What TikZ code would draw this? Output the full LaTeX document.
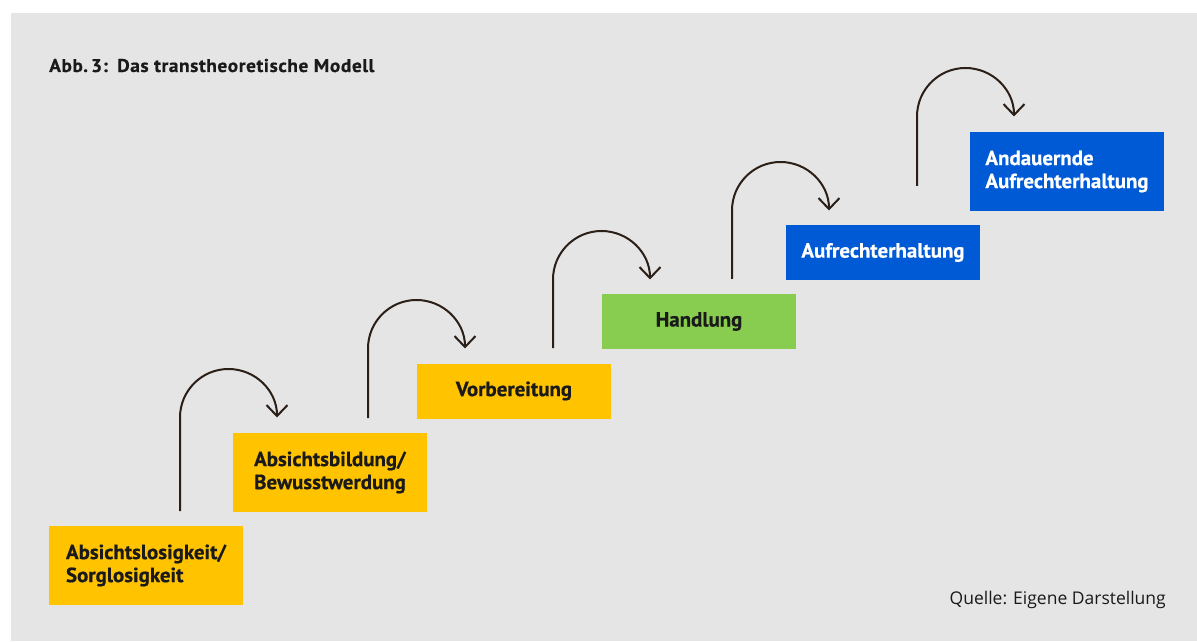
\documentclass[tikz,border=0pt]{standalone}
\usepackage{fontspec}
\setmainfont{Open Sans}
\newfontfamily\condfont[FakeStretch=1.02, FakeBold=0.6]{PT Sans}
\newfontfamily\titlefont[FakeStretch=1.05, LetterSpace=3, FakeBold=0.5]{PT Sans}
\usetikzlibrary{arrows.meta}
\definecolor{bggray}{HTML}{E5E5E5}
\definecolor{stepyellow}{HTML}{FFC300}
\definecolor{stepgreen}{HTML}{88CD50}
\definecolor{stepblue}{HTML}{005AD5}
\definecolor{arrowbrown}{HTML}{2B1F17}
\definecolor{txtdark}{HTML}{1A1A1A}
\tikzset{
  stage/.style={rectangle, inner sep=0pt, minimum width=194pt, align=left,
    font=\condfont\bfseries\fontsize{20.5}{23}\selectfont},
  tall/.style={minimum height=79pt},
  short/.style={minimum height=55pt},
  yel/.style={fill=stepyellow, text=txtdark},
  grn/.style={fill=stepgreen, text=txtdark},
  blu/.style={fill=stepblue, text=white},
  loop/.style={draw=arrowbrown, line width=2pt, -{Straight Barb[length=11pt,width=21pt,line width=2pt]}}
}
\begin{document}
\begin{tikzpicture}[x=1pt,y=1pt]
\useasboundingbox (0,0) rectangle (1197,641);
\fill[white] (0,0) rectangle (1197,641);
\fill[bggray] (11,0) rectangle (1197,628);
\node[anchor=base west, inner sep=0pt, text=txtdark, font=\titlefont\bfseries\fontsize{18.5}{21}\selectfont] (title) at (49,569) {Abb.\,3:\enspace Das transtheoretische Modell};
\node[anchor=base east, inner sep=0pt, text=txtdark, font=\fontsize{17.5}{20}\selectfont] (source) at (1166,37) {Quelle: Eigene Darstellung};
\node[stage, tall, yel] (s1) at (146,75.5) {Absichtslosigkeit/\\Sorglosigkeit};
\node[stage, tall, yel] (s2) at (330,168.5) {Absichtsbildung/\\Bewusstwerdung};
\node[stage, short, yel] (s3) at (514,250) {Vorbereitung};
\node[stage, short, grn] (s4) at (699,319.5) {Handlung};
\node[stage, short, blu] (s5) at (883,388.5) {Aufrechterhaltung};
\node[stage, tall, blu] (s6) at (1067,469.5) {Andauernde\\Aufrechterhaltung};
\coordinate (a1) at (180,130);
\coordinate (a2) at (368,223);
\coordinate (a3) at (553,293);
\coordinate (a4) at (732,362);
\coordinate (a5) at (917,455);
\draw[loop] (a1) -- (180,223.5) arc[start angle=180, end angle=0, radius=48.5pt];
\draw[loop] (a2) -- (368,292.5) arc[start angle=180, end angle=0, radius=48.5pt];
\draw[loop] (a3) -- (553,361.5) arc[start angle=180, end angle=0, radius=48.5pt];
\draw[loop] (a4) -- (732,430.5) arc[start angle=180, end angle=0, radius=48.5pt];
\draw[loop] (a5) -- (917,524.5) arc[start angle=180, end angle=0, radius=48.5pt];
\end{tikzpicture}
\end{document}
